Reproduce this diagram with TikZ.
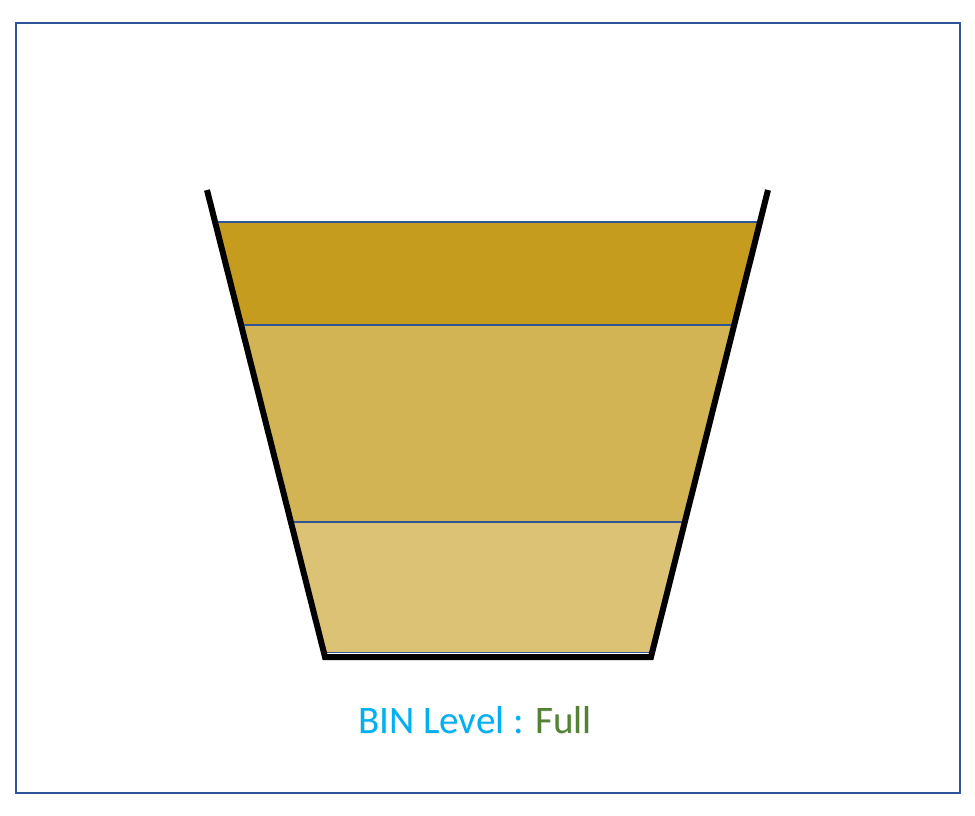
\documentclass[tikz,border=0pt]{standalone}
\usepackage{fontspec}
\setmainfont{Carlito}
\usetikzlibrary{calc,positioning}
\definecolor{framblue}{HTML}{2F5597}
\definecolor{layerA}{HTML}{C59C1E}
\definecolor{layerB}{HTML}{D3B455}
\definecolor{layerC}{HTML}{DCC274}
\definecolor{labcyan}{HTML}{00B0F0}
\definecolor{labgreen}{HTML}{548235}
\tikzset{
  frame/.style={draw=framblue, line width=1.6pt},
  layer/.style={draw=framblue, line width=1.4pt, line join=miter},
  wall/.style={draw=black, line width=6pt, line join=miter},
  lab/.style={font=\fontsize{39}{44}\selectfont, inner sep=0pt},
}
\begin{document}
\begin{tikzpicture}[x=1pt,y=-1pt]
  \useasboundingbox (0,0) rectangle (975,815);
  \draw[frame] (16,23) rectangle (960,793);
  % bin corners
  \coordinate (lt) at (207,190);
  \coordinate (lb) at (325,657);
  \coordinate (rt) at (768,190);
  \coordinate (rb) at (651,657);
  % layer edges on the walls
  \foreach \n/\t in {1/0.0685, 2/0.289, 3/0.711, 4/0.99} {
    \coordinate (l\n) at ($(lt)!\t!(lb)$);
    \coordinate (r\n) at ($(rt)!\t!(rb)$);
  }
  % fill levels
  \fill[layerA] (l1) -- (r1) -- (r2) -- (l2) -- cycle;
  \fill[layerB] (l2) -- (r2) -- (r3) -- (l3) -- cycle;
  \fill[layerC] (l3) -- (r3) -- (r4) -- (l4) -- cycle;
  \foreach \n in {1,2,3,4} {\draw[layer] (l\n) -- (r\n);}
  % walls
  \draw[wall] (lt) -- (lb) -- (rb) -- (rt);
  % label
  \node[lab, text=black!15, opacity=0.5] at (476,721) {\textcolor{black!15}{BIN Level :} Full};
  \node[lab] (binlabel) at (475,720) {\textcolor{labcyan}{BIN Level :} \textcolor{labgreen}{Full}};
\end{tikzpicture}
\end{document}
